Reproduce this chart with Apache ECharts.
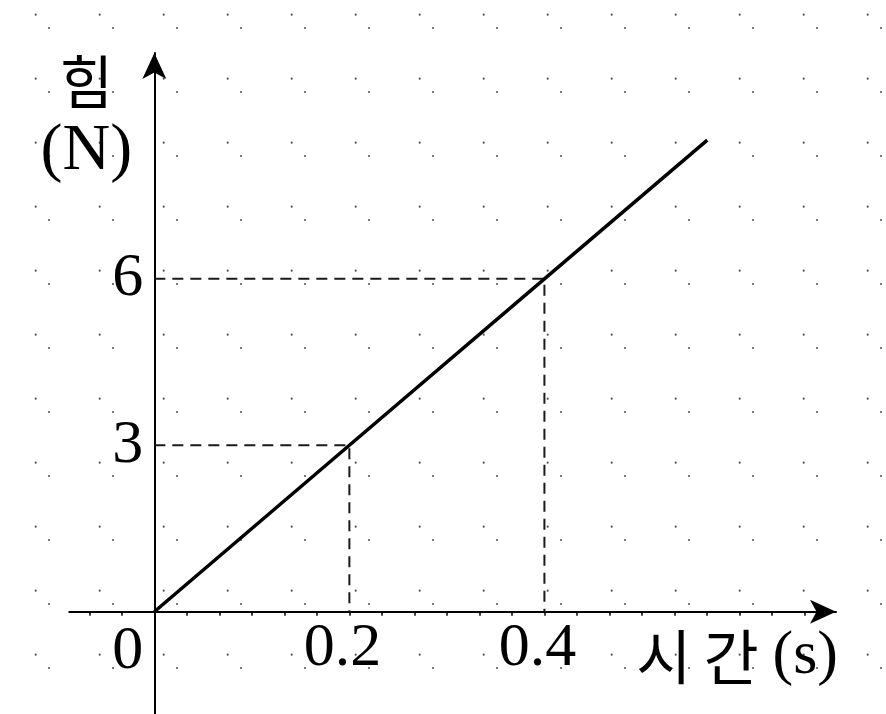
<!DOCTYPE html>
<html>
<head>
<meta charset="utf-8">
<script src="https://cdn.jsdelivr.net/npm/echarts@6/dist/echarts.min.js"></script>
<style>
  html, body { margin: 0; padding: 0; background: #fff; }
  #chart { width: 886px; height: 714px; }
</style>
</head>
<body>
<div id="chart"></div>
<script>
// Force grows linearly with time
const times = [0, 0.2, 0.4, 0.567];
const forces = [0, 3, 6, 8.5];
// points that get dashed projections onto both axes
const guideTimes = [0.2, 0.4];
const guideForces = [3, 6];
// tick labels
const xLabelValues = [0.2, 0.4];
const yLabelValues = [0, 3, 6];
// small ticks along the time axis
const xTickStep = 1 / 30;
const xTickValues = [];
for (let i = -2; i <= 20; i++) xTickValues.push(i * xTickStep);

const serif = 'Liberation Serif';
const kr = 'Noto Sans CJK KR';

// axis ranges; the axes cross at the origin inside the plot
const xMin = -0.0872, xMax = 0.699;
const yMin = -1.843, yMax = 10.07;
const gridLeft = 69.3, gridRight = 50, gridTop = 53, gridBottom = 0;
const plotW = 886 - gridLeft - gridRight;
const plotH = 714 - gridTop - gridBottom;
// distance from the grid edges to the zero lines
const yAxisShift = (0 - xMin) / (xMax - xMin) * plotW;
const xAxisShift = (0 - yMin) / (yMax - yMin) * plotH;

// dotted paper background
function dotPaper() {
  const c = document.createElement('canvas');
  c.width = 64; c.height = 64;
  const g = c.getContext('2d');
  g.fillStyle = '#fff';
  g.fillRect(0, 0, 64, 64);
  g.fillStyle = '#555';
  [[49, 28], [35.7, 14.7]].forEach(([x, y]) => {
    g.beginPath(); g.arc(x, y, 1.1, 0, Math.PI * 2); g.fill();
  });
  return c;
}

const guideSeries = guideTimes.map((t, i) => ({
  type: 'line',
  data: [[0, guideForces[i]], [t, guideForces[i]], [t, 0]],
  showSymbol: false,
  silent: true,
  z: 1,
  lineStyle: { color: '#1a1a1a', width: 2, type: [11, 7] }
}));

const chart = echarts.init(document.getElementById('chart'), null, { renderer: 'canvas' });
chart.setOption({
  animation: false,
  backgroundColor: { image: dotPaper(), repeat: 'repeat' },
  grid: {
    left: gridLeft, right: gridRight, top: gridTop, bottom: gridBottom,
    containLabel: false, outerBoundsMode: 'none'
  },
  xAxis: {
    type: 'value',
    min: xMin,
    max: xMax,
    position: 'bottom',
    offset: -xAxisShift,
    name: '{k|시}{k2|간}{u|(s)}',
    nameLocation: 'end',
    nameGap: 2,
    nameTextStyle: {
      align: 'right', verticalAlign: 'top', padding: [14, 0, 0, 0],
      rich: {
        k: { fontFamily: kr, fontSize: 60, color: '#000' },
        k2: { fontFamily: kr, fontSize: 60, color: '#000', padding: [0, 0, 0, 12] },
        u: { fontFamily: serif, fontSize: 62, color: '#000', padding: [0, 0, 0, 14] }
      }
    },
    axisLine: {
      onZero: false,
      symbol: ['none', 'arrow'], symbolSize: [18, 26],
      lineStyle: { color: '#000', width: 2 }
    },
    axisTick: {
      show: true, inside: false, length: 4,
      customValues: xTickValues,
      lineStyle: { color: '#000', width: 1.5 }
    },
    axisLabel: {
      customValues: xLabelValues,
      fontFamily: serif, fontSize: 62, color: '#000', margin: 6,
      padding: [0, 14, 0, 0],
      formatter: v => String(v)
    },
    splitLine: { show: false }
  },
  yAxis: {
    type: 'value',
    min: yMin,
    max: yMax,
    position: 'left',
    offset: -yAxisShift,
    name: '{k|힘}\n{u|(N)}',
    nameLocation: 'end',
    nameGap: 6,
    nameTextStyle: {
      align: 'center', verticalAlign: 'top', padding: [0, 136, 0, 0],
      rich: {
        k: { fontFamily: kr, fontSize: 58, lineHeight: 70, color: '#000' },
        u: { fontFamily: serif, fontSize: 66, lineHeight: 70, color: '#000' }
      }
    },
    axisLine: {
      onZero: false,
      symbol: ['none', 'arrow'], symbolSize: [18, 26],
      lineStyle: { color: '#000', width: 2 }
    },
    axisTick: { show: false },
    axisLabel: {
      customValues: yLabelValues,
      fontFamily: serif, fontSize: 62, color: '#000', margin: 11,
      formatter: v => (v === 0 ? '{z|0}' : String(v)),
      rich: {
        z: { fontFamily: serif, fontSize: 62, color: '#000', padding: [80, 0, 0, 0] }
      }
    },
    splitLine: { show: false }
  },
  series: [
    ...guideSeries,
    {
      type: 'line',
      data: times.map((t, i) => [t, forces[i]]),
      showSymbol: false,
      z: 3,
      lineStyle: { color: '#000', width: 3.5 }
    }
  ]
});
</script>
</body>
</html>
